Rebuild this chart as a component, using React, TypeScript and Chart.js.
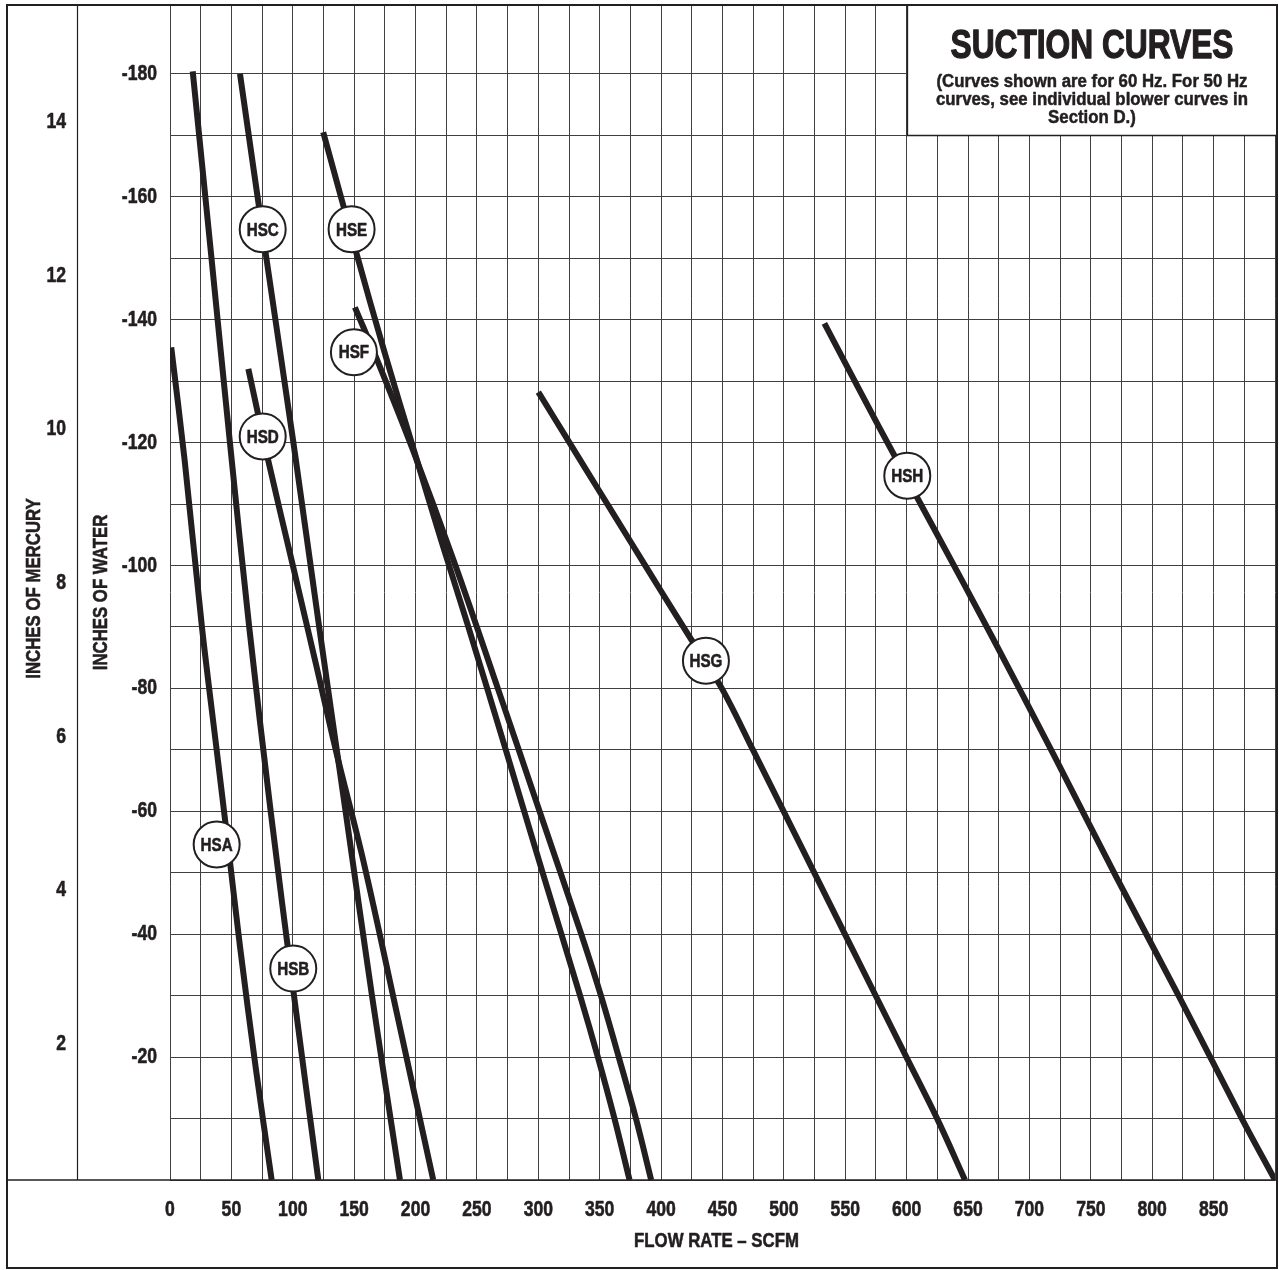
import React, { useEffect, useRef } from 'react';
import { Chart, registerables } from 'chart.js';

Chart.register(...registerables);

const FONT = "'Liberation Sans', Arial, 'DejaVu Sans', sans-serif";
const INK = '#231f20';
const GRID = '#404040';

// ---- axes ----
const flowGrid = [0, 25, 50, 75, 100, 125, 150, 175, 200, 225, 250, 275, 300, 325, 350, 375, 400, 425, 450, 475, 500, 525, 550, 575, 600, 625, 650, 675, 700, 725, 750, 775, 800, 825, 850, 875, 900];
const flowLabelValues = [0, 50, 100, 150, 200, 250, 300, 350, 400, 450, 500, 550, 600, 650, 700, 750, 800, 850];
const waterGrid = [-180, -170, -160, -150, -140, -130, -120, -110, -100, -90, -80, -70, -60, -50, -40, -30, -20, -10, 0];
const waterLabelValues = [-180, -160, -140, -120, -100, -80, -60, -40, -20];
const mercuryTicks = [2, 4, 6, 8, 10, 12, 14];

const xTitle = 'FLOW RATE – SCFM';
const waterTitle = 'INCHES OF WATER';
const mercuryTitle = 'INCHES OF MERCURY';

// ---- curves (flow SCFM vs inches of water) ----
const hsaFlow = [1, 12, 26, 38, 47, 57, 70, 82.8];
const hsaWater = [-135.5, -117, -90, -70, -55, -38, -18, 0];

const hsbFlow = [18.5, 33.8, 48.8, 64.5, 82, 101, 120.8];
const hsbWater = [-180.4, -150, -120, -90, -60, -30, 0];

const hscFlow = [57, 78.5, 100.5, 121.5, 143, 164.5, 187.3];
const hscWater = [-180, -150, -120, -90, -60, -30, 0];

const hsdFlow = [63.8, 80, 100.4, 119.4, 135.7, 157.4, 186, 214.4];
const hsdWater = [-132, -117.1, -99.7, -83.5, -69.4, -52, -26, 0];

const hseFlow = [124.8, 152, 175, 199.5, 221, 243, 273.5, 303.5, 334, 348.5, 362, 374.3];
const hseWater = [-170.5, -150.7, -134.5, -118.2, -104, -90, -70, -50, -30, -20, -10, 0];

const hsfFlow = [150.6, 169.6, 198, 232.5, 267, 301, 335, 351, 365.5, 379.5, 391.9];
const hsfWater = [-142, -133, -118.7, -100, -80, -60, -40, -30, -20, -10, 0];

const hsgFlow = [300, 325, 350, 375, 400, 425, 450, 475, 500, 525, 550, 575, 600, 625, 647.5];
const hsgWater = [-128.2, -120.1, -112, -103.9, -95.8, -87.8, -79.8, -69.9, -59.9, -49.9, -39.9, -29.9, -19.9, -9.9, 0];

const hshFlow = [533, 577, 622, 669, 720, 771, 822, 873, 900];
const hshWater = [-139.4, -122.7, -106.1, -88.6, -69.1, -49.2, -29.8, -10, 0];

// ---- curve labels ----
const labelNames = ['HSA', 'HSB', 'HSC', 'HSD', 'HSE', 'HSF', 'HSG', 'HSH'];
const labelFlow = [38, 100.4, 75.5, 75.5, 147.9, 149.8, 436.5, 600.5];
const labelWater = [-54.6, -34.4, -154.7, -121, -154.7, -134.7, -84.5, -114.6];

const titleText = 'SUCTION CURVES';
const noteLines = ['(Curves shown are for 60 Hz. For 50 Hz', 'curves, see individual blower curves in', 'Section D.)'];

const curves = [
  [hsaFlow, hsaWater],
  [hsbFlow, hsbWater],
  [hscFlow, hscWater],
  [hsdFlow, hsdWater],
  [hseFlow, hseWater],
  [hsfFlow, hsfWater],
  [hsgFlow, hsgWater],
  [hshFlow, hshWater],
];

const pts = (xs: number[], ys: number[]) => xs.map((x, i) => ({ x, y: ys[i] }));

// condensed heavy text: bold face squeezed horizontally, lightly stroked
function text(
  ctx: CanvasRenderingContext2D,
  s: string,
  x: number,
  y: number,
  size: number,
  sx: number,
  align: CanvasTextAlign = 'center',
  baseline: CanvasTextBaseline = 'middle',
  rotate = 0,
  heavy = 0.6
) {
  ctx.save();
  ctx.translate(x, y);
  if (rotate) ctx.rotate(rotate);
  ctx.scale(sx, 1);
  ctx.font = `bold ${size}px ${FONT}`;
  ctx.textAlign = align;
  ctx.textBaseline = baseline;
  ctx.fillStyle = INK;
  ctx.fillText(s, 0, 0);
  if (heavy > 0) {
    ctx.strokeStyle = INK;
    ctx.lineWidth = heavy;
    ctx.lineJoin = 'round';
    ctx.strokeText(s, 0, 0);
  }
  ctx.restore();
}

const SX = 0.8;

const framePlugin = {
  id: 'frame',
  beforeDatasetsDraw(chart: any) {
    const ctx: CanvasRenderingContext2D = chart.ctx;
    const { top, right } = chart.chartArea;
    const boxLeft = 907;
    const boxBottom = 135;
    const boxRight = right + 2;
    ctx.save();
    ctx.fillStyle = '#ffffff';
    ctx.fillRect(boxLeft, top, boxRight - boxLeft, boxBottom - top);
    ctx.strokeStyle = INK;
    ctx.lineWidth = 1.3;
    ctx.beginPath();
    ctx.moveTo(boxLeft + 0.5, top);
    ctx.lineTo(boxLeft + 0.5, boxBottom + 0.5);
    ctx.lineTo(boxRight, boxBottom + 0.5);
    ctx.stroke();
    ctx.restore();
    const cx = (boxLeft + boxRight) / 2;
    ctx.save();
    ctx.font = `bold 40px ${FONT}`;
    const tw = ctx.measureText(titleText).width;
    ctx.font = `bold 18px ${FONT}`;
    const nw = ctx.measureText(noteLines[0]).width;
    ctx.restore();
    text(ctx, titleText, cx, 58, 40, 283 / tw, 'center', 'alphabetic', 0, 1.3);
    const nsx = 311 / nw;
    noteLines.forEach((t, i) => text(ctx, t, cx, 87 + i * 18, 18, nsx, 'center', 'alphabetic', 0, 0.5));
  },
  afterDatasetsDraw(chart: any) {
    const ctx: CanvasRenderingContext2D = chart.ctx;
    const meta = chart.getDatasetMeta(0);
    meta.data.forEach((el: any, i: number) => {
      text(ctx, labelNames[i], el.x, el.y + 1, 19, 0.8, 'center', 'middle', 0, 0.6);
    });
  },
  afterDraw(chart: any) {
    const ctx: CanvasRenderingContext2D = chart.ctx;
    const { top, bottom, left, right } = chart.chartArea;
    const xs = chart.scales.x;
    const ys = chart.scales.y;
    const hg = chart.scales.yHg;

    // tick labels
    flowLabelValues.forEach((v) => text(ctx, String(v), xs.getPixelForValue(v), bottom + 30, 22, SX));
    waterLabelValues.forEach((v) => text(ctx, String(v), ys.right - 13, ys.getPixelForValue(v), 22, SX, 'right'));
    mercuryTicks.forEach((v) => text(ctx, String(v), hg.right - 11, hg.getPixelForValue(v), 22, SX, 'right'));

    // axis titles
    const midY = (top + bottom) / 2;
    text(ctx, xTitle, (left + right) / 2 - 6, bottom + 61, 21, SX);
    text(ctx, waterTitle, 101, midY, 21, SX, 'center', 'middle', -Math.PI / 2);
    text(ctx, mercuryTitle, 34, midY - 4, 21, SX, 'center', 'middle', -Math.PI / 2);

    // frame lines
    ctx.save();
    ctx.strokeStyle = INK;
    ctx.lineWidth = 1.2;
    ctx.beginPath();
    ctx.moveTo(hg.right + 0.5, top);
    ctx.lineTo(hg.right + 0.5, bottom);
    ctx.stroke();
    ctx.lineWidth = 1.6;
    ctx.beginPath();
    ctx.moveTo(7, bottom);
    ctx.lineTo(1277, bottom);
    ctx.stroke();
    ctx.lineWidth = 2;
    ctx.strokeRect(7, 5, 1270, 1263);
    ctx.restore();
  },
};

const zeroPad = (s: any) => {
  s.paddingTop = 0;
  s.paddingBottom = 0;
  s.paddingLeft = 0;
  s.paddingRight = 0;
};

export default function App() {
  const canvasRef = useRef<HTMLCanvasElement | null>(null);

  useEffect(() => {
    const canvas = canvasRef.current;
    if (!canvas) return;

    const datasets: any[] = [
      {
        type: 'scatter',
        label: 'labels',
        data: pts(labelFlow, labelWater),
        showLine: false,
        pointRadius: 23,
        pointHoverRadius: 23,
        pointBackgroundColor: '#ffffff',
        pointBorderColor: INK,
        pointBorderWidth: 2,
        order: 0,
        clip: false,
      },
      ...curves.map(([xs, ys], i) => ({
        type: 'scatter',
        label: labelNames[i],
        data: pts(xs, ys),
        showLine: true,
        pointRadius: 0,
        pointHoverRadius: 0,
        borderColor: INK,
        borderWidth: 6,
        borderCapStyle: 'butt',
        borderJoinStyle: 'round',
        tension: 0.35,
        order: 1,
      })),
    ];

    const chart = new Chart(canvas, {
      type: 'scatter',
      data: { datasets },
      plugins: [framePlugin],
      options: {
        animation: false,
        responsive: false,
        devicePixelRatio: 1,
        events: [],
        layout: { padding: { left: 7, top: 5, right: 4, bottom: 0 }, autoPadding: false },
        plugins: { legend: { display: false }, tooltip: { enabled: false } },
        scales: {
          x: {
            type: 'linear',
            position: 'bottom',
            min: 0,
            max: 900,
            afterBuildTicks: (s: any) => {
              s.ticks = flowGrid.map((v) => ({ value: v }));
            },
            afterFit: (s: any) => {
              s.height = 90;
              zeroPad(s);
            },
            ticks: { display: false, autoSkip: false, maxRotation: 0, minRotation: 0 },
            grid: { color: GRID, lineWidth: 1, drawTicks: false },
            border: { display: false },
            title: { display: false },
          },
          y: {
            type: 'linear',
            position: 'left',
            reverse: true,
            weight: 0,
            min: -191.2,
            max: 0,
            afterBuildTicks: (s: any) => {
              s.ticks = waterGrid.map((v) => ({ value: v }));
            },
            afterFit: (s: any) => {
              s.width = 93;
              zeroPad(s);
            },
            ticks: { display: false, autoSkip: false },
            grid: { color: GRID, lineWidth: 1, drawTicks: false },
            border: { display: false },
            title: { display: false },
          },
          yHg: {
            type: 'linear',
            position: 'left',
            weight: 1,
            min: 0.23,
            max: 15.52,
            afterBuildTicks: (s: any) => {
              s.ticks = mercuryTicks.map((v) => ({ value: v }));
            },
            afterFit: (s: any) => {
              s.width = 70;
              zeroPad(s);
            },
            ticks: { display: false, autoSkip: false },
            grid: { display: false, drawTicks: false },
            border: { display: false },
            title: { display: false },
          },
        },
      } as any,
    } as any);

    return () => chart.destroy();
  }, []);

  return (
    <div style={{ position: 'absolute', left: 0, top: 0, width: 1279, height: 1270, background: '#ffffff' }}>
      <canvas ref={canvasRef} width={1279} height={1270} style={{ display: 'block', width: 1279, height: 1270 }} />
    </div>
  );
}
